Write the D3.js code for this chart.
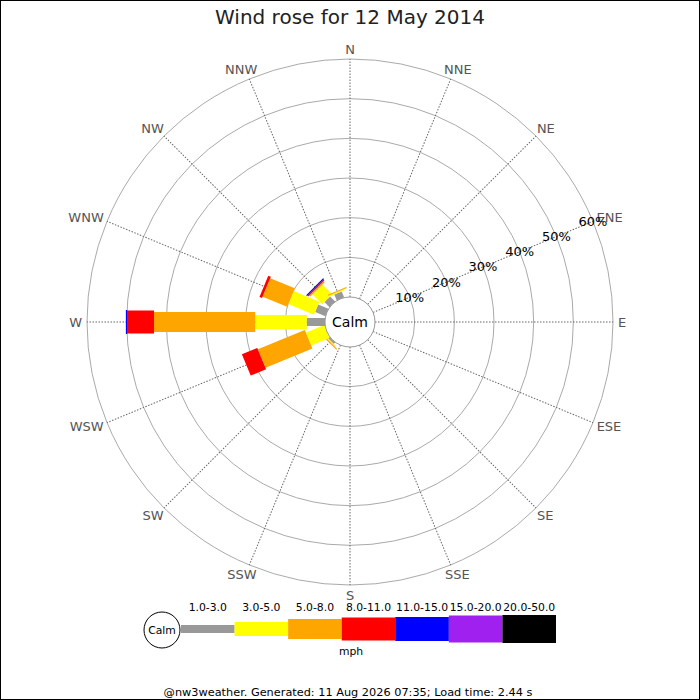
<!DOCTYPE html>
<html>
<head>
<meta charset="utf-8">
<script src="https://d3js.org/d3.v7.min.js"></script>
<style>
  body { margin: 0; background: #fff; }
  text { font-family: "DejaVu Sans", sans-serif; }
</style>
</head>
<body>
<script>
// wind directions, clockwise from north
var directions = ["N","NNE","NE","ENE","E","ESE","SE","SSE","S","SSW","SW","WSW","W","WNW","NW","NNW"];
var speedBins = ["1.0-3.0","3.0-5.0","5.0-8.0","8.0-11.0","11.0-15.0","15.0-20.0","20.0-50.0"];
var ringTicks = [10, 20, 30, 40, 50, 60];

// % of time per direction, one array per speed bin (mph)
var pct_1_3   = [0,0,0,0,0,0,0,0,0,0,0.5,0,  4.6, 2.8, 1.8, 1.6];
var pct_3_5   = [0,0,0,0,0,0,0,0,0,0,0.3,5.0,13.0, 7.0, 3.5, 0.3];
var pct_5_8   = [0,0,0,0,0,0,0,0,0,0,0.3,12.8,25.5,6.7, 0.4, 0.3];
var pct_8_11  = [0,0,0,0,0,0,0,0,0,0,0,  4.2, 6.8, 0.7, 0.3, 0];
var pct_11_15 = [0,0,0,0,0,0,0,0,0,0,0,  0,   0.3, 0,   0.3, 0];
var pct_15_20 = [0,0,0,0,0,0,0,0,0,0,0,  0,   0,   0,   0,   0];
var pct_20_50 = [0,0,0,0,0,0,0,0,0,0,0,  0,   0,   0,   0,   0];

var series = [pct_1_3, pct_3_5, pct_5_8, pct_8_11, pct_11_15, pct_15_20, pct_20_50];
var colors = ["#999999","#ffff00","#ffa500","#ff0000","#0000ff","#a020f0","#000000"];
var barWidths = [8, 14, 20, 23, 24, 27, 28];

var W = 700, H = 700, cx = 350, cy = 322, calmR = 25, outerR = 263, labelR = 268;

var svg = d3.select("body").append("svg")
    .attr("width", W).attr("height", H);

svg.append("rect").attr("x", 0.5).attr("y", 0.5)
    .attr("width", W - 1).attr("height", H - 1)
    .attr("fill", "#fff").attr("stroke", "#000");

svg.append("text")
    .attr("x", cx).attr("y", 24)
    .attr("text-anchor", "middle")
    .attr("font-size", 20)
    .attr("fill", "#222")
    .text("Wind rose for 12 May 2014");

var r = d3.scaleLinear().domain([0, 60]).range([calmR, outerR]);
var angle = d3.scalePoint().domain(directions).range([0, 360 - 22.5]);
function rad(d) { return angle(d) * Math.PI / 180; }

var g = svg.append("g").attr("transform", "translate(" + cx + "," + cy + ")");

// rings
g.selectAll("circle.ring").data(ringTicks).enter().append("circle")
    .attr("class", "ring")
    .attr("r", function (d) { return r(d); })
    .attr("fill", "none").attr("stroke", "#aaa").attr("stroke-width", 1);

// spokes
g.selectAll("line.spoke").data(directions).enter().append("line")
    .attr("class", "spoke")
    .attr("x1", calmR).attr("x2", outerR)
    .attr("transform", function (d) { return "rotate(" + (angle(d) - 90) + ")"; })
    .attr("stroke", "#666").attr("stroke-width", 1)
    .attr("stroke-dasharray", "1.5,1.5");

// direction labels, pushed outward so the box sits outside the ring
g.selectAll("text.dir").data(directions).enter().append("text")
    .attr("class", "dir")
    .attr("text-anchor", "middle").attr("dominant-baseline", "central")
    .attr("font-size", 13).attr("fill", "#555")
    .text(function (d) { return d; })
    .each(function (d) {
      var w = this.getComputedTextLength(), h = 10, t = rad(d);
      d3.select(this)
        .attr("x", labelR * Math.sin(t) + w / 2 * Math.sin(t))
        .attr("y", -labelR * Math.cos(t) - h / 2 * Math.cos(t));
    });

// stacked bars
var bars = [];
directions.forEach(function (dir, i) {
  var cum = 0;
  series.forEach(function (s, k) {
    if (s[i] > 0) bars.push({ dir: dir, k: k, p0: cum, p1: cum + s[i] });
    cum += s[i];
  });
});
g.selectAll("rect.bar").data(bars).enter().append("rect")
    .attr("class", "bar")
    .attr("x", function (d) { return r(d.p0); })
    .attr("width", function (d) { return Math.max(r(d.p1) - r(d.p0), 1); })
    .attr("y", function (d) { return -barWidths[d.k] / 2; })
    .attr("height", function (d) { return barWidths[d.k]; })
    .attr("transform", function (d) { return "rotate(" + (angle(d.dir) - 90) + ")"; })
    .attr("fill", function (d) { return colors[d.k]; });

// calm circle
g.append("circle").attr("r", calmR).attr("fill", "#fff").attr("stroke", "#999");
g.append("text").attr("text-anchor", "middle").attr("dominant-baseline", "central")
    .attr("font-size", 14).attr("fill", "#000").text("Calm");

// percent labels along ENE
var a = rad("ENE");
g.selectAll("text.pct").data(ringTicks).enter().append("text")
    .attr("class", "pct")
    .attr("x", function (d) { return r(d) * Math.sin(a); })
    .attr("y", function (d) { return -r(d) * Math.cos(a); })
    .attr("text-anchor", "middle").attr("dominant-baseline", "central")
    .attr("font-size", 13).attr("fill", "#000")
    .text(function (d) { return d + "%"; });

// legend
var lx = d3.scaleBand().domain(speedBins).range([181, 556]);
var ly = 629;
var leg = svg.append("g");
leg.selectAll("rect").data(speedBins).enter().append("rect")
    .attr("x", function (d) { return lx(d); })
    .attr("width", lx.bandwidth())
    .attr("y", function (d, i) { return ly - barWidths[i] / 2; })
    .attr("height", function (d, i) { return barWidths[i]; })
    .attr("fill", function (d, i) { return colors[i]; });
leg.selectAll("text").data(speedBins).enter().append("text")
    .attr("x", function (d) { return lx(d) + lx.bandwidth() / 2; })
    .attr("y", 611)
    .attr("text-anchor", "middle").attr("font-size", 10.8).attr("fill", "#000")
    .text(function (d) { return d; });
svg.append("circle").attr("cx", 162).attr("cy", 630).attr("r", 18)
    .attr("fill", "#fff").attr("stroke", "#000");
svg.append("text").attr("x", 162).attr("y", 630)
    .attr("text-anchor", "middle").attr("dominant-baseline", "central")
    .attr("font-size", 10.8).text("Calm");
svg.append("text").attr("x", 351).attr("y", 655)
    .attr("text-anchor", "middle").attr("font-size", 10.8).text("mph");

svg.append("text").attr("x", 348).attr("y", 696)
    .attr("text-anchor", "middle").attr("font-size", 11.3).attr("fill", "#000")
    .text("@nw3weather. Generated: 11 Aug 2026 07:35; Load time: 2.44 s");
</script>
</body>
</html>
